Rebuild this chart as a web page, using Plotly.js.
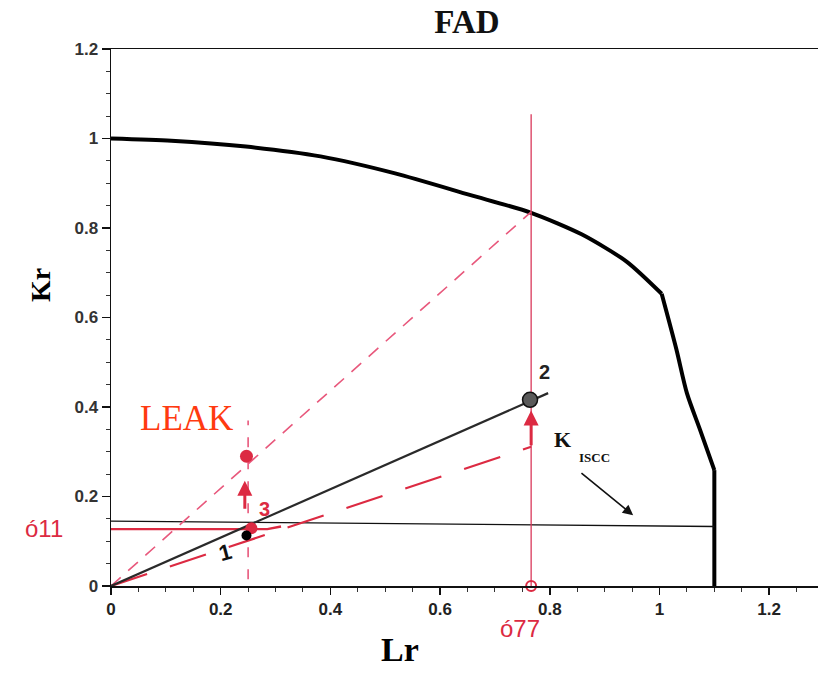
<!DOCTYPE html>
<html>
<head>
<meta charset="utf-8">
<script src="https://cdn.plot.ly/plotly-3.0.1.min.js"></script>
<style>html,body{margin:0;padding:0;background:#fff;}#chart{width:818px;height:673px;}</style>
</head>
<body>
<div id="chart"></div>
<script>
// ---- data ----
const fadLr = [0, 0.11, 0.246, 0.382, 0.518, 0.654, 0.766, 0.858, 0.94, 1.004, 1.031, 1.05, 1.074, 1.1, 1.1];
const fadKr = [1.0, 0.995, 0.982, 0.96, 0.922, 0.874, 0.834, 0.786, 0.725, 0.653, 0.528, 0.431, 0.349, 0.259, 0];
const kisccLr = [0, 1.1];
const kisccKr = [0.145, 0.133];
const loadLr = [0, 0.797];
const loadKr = [0, 0.431];
const leakDashLr = [0, 0.766];
const leakDashKr = [0, 0.836];
const redDashLr = [0, 0.766];
const redDashKr = [0, 0.311];
const vertLineLr = [0.766, 0.766];
const vertLineKr = [0, 1.054];
const vertDashLr = [0.25, 0.25];
const vertDashKr = [0.015, 0.37];
const redHorizLr = [-0.014, 0.2, 0.285, 0.31];
const redHorizKr = [0.127, 0.126, 0.127, 0.133];
const pt1Lr = [0.247], pt1Kr = [0.113];
const pt1RedLr = [0.256], pt1RedKr = [0.129];
const pt2Lr = [0.764], pt2Kr = [0.416];
const leakPtLr = [0.247], leakPtKr = [0.29];
const axisMarkLr = [0.766], axisMarkKr = [0];
const arrowsLr = [[0.244, 0.244], [0.766, 0.766]];
const arrowsKr = [[0.169, 0.235], [0.311, 0.392]];
const kisccArrowLr = [0.855, 0.952];
const kisccArrowKr = [0.255, 0.158];
const tickVals = [0, 0.2, 0.4, 0.6, 0.8, 1.0, 1.2];
const xTickText = ['0', '0.2', '0.4', '0.6', '0.8', '1', '1.2'];
const yTickText = ['0', '0.2', '0.4', '0.6', '0.8', '1', '1.2'];

const RED = '#dc2a42';
const PINK = '#e8587c';
const CORNER = 9, FOOT = 13;

const traces = [
  {x: fadLr.slice(0, CORNER + 1), y: fadKr.slice(0, CORNER + 1), mode: 'lines', line: {color: '#000', width: 4, shape: 'spline', smoothing: 0.7}},
  {x: fadLr.slice(CORNER, FOOT + 1), y: fadKr.slice(CORNER, FOOT + 1), mode: 'lines', line: {color: '#000', width: 4, shape: 'spline', smoothing: 0.8}},
  {x: fadLr.slice(FOOT), y: fadKr.slice(FOOT), mode: 'lines', line: {color: '#000', width: 4}},
  {x: kisccLr, y: kisccKr, mode: 'lines', line: {color: '#111', width: 1.3}},
  {x: leakDashLr, y: leakDashKr, mode: 'lines', line: {color: PINK, width: 1.6, dash: '13px,10px'}},
  {x: redDashLr, y: redDashKr, mode: 'lines', line: {color: RED, width: 2.2, dash: '38px,24px'}},
  {x: vertLineLr, y: vertLineKr, mode: 'lines', line: {color: '#d9385a', width: 1.3}},
  {x: vertDashLr, y: vertDashKr, mode: 'lines', line: {color: PINK, width: 1.6, dash: '10px,12px'}},
  {x: redHorizLr, y: redHorizKr, mode: 'lines', line: {color: RED, width: 2.4}},
  {x: loadLr, y: loadKr, mode: 'lines', line: {color: '#2a2a2a', width: 2.2}},
  {x: leakPtLr, y: leakPtKr, mode: 'markers', marker: {color: RED, size: 13}},
  {x: pt1RedLr, y: pt1RedKr, mode: 'markers', marker: {color: RED, size: 12}},
  {x: pt1Lr, y: pt1Kr, mode: 'markers', marker: {color: '#000', size: 10}},
  {x: pt2Lr, y: pt2Kr, mode: 'markers', marker: {color: '#5a5a5a', size: 15, line: {color: '#111', width: 1.5}}},
  {x: axisMarkLr, y: axisMarkKr, mode: 'markers', cliponaxis: false,
   marker: {color: 'rgba(255,255,255,0)', size: 10, line: {color: RED, width: 2}}}
];

const L = 111, T = 49, PW = 707, PH = 537;
const px = v => (v - L) / PW, py = v => 1 - (v - T) / PH;

const annotations = [
  {text: 'LEAK', x: 0.05, y: 0.375, xref: 'x', yref: 'y', xanchor: 'left', yanchor: 'middle', showarrow: false,
   font: {family: 'Liberation Serif, Times New Roman, serif', size: 35, color: '#ff3a10'}},
  {text: '<b>1</b>', x: 0.208, y: 0.075, xref: 'x', yref: 'y', showarrow: false, textangle: -15,
   font: {family: 'Liberation Sans, Arial, sans-serif', size: 22, color: '#111'}},
  {text: '<b>2</b>', x: 0.791, y: 0.478, xref: 'x', yref: 'y', showarrow: false,
   font: {family: 'Liberation Sans, Arial, sans-serif', size: 20, color: '#222'}},
  {text: '<b>3</b>', x: 0.279, y: 0.172, xref: 'x', yref: 'y', showarrow: false,
   font: {family: 'Liberation Sans, Arial, sans-serif', size: 20, color: RED}},
  {text: '<b>K</b>', x: 0.823, y: 0.327, xref: 'x', yref: 'y', showarrow: false,
   font: {family: 'Liberation Serif, Times New Roman, serif', size: 22, color: '#111'}},
  {text: '<b>ISCC</b>', x: 0.882, y: 0.288, xref: 'x', yref: 'y', showarrow: false,
   font: {family: 'Liberation Serif, Times New Roman, serif', size: 13, color: '#111'}},
  {text: 'ó11', x: px(44), y: py(528), xref: 'paper', yref: 'paper', xanchor: 'center', yanchor: 'middle', showarrow: false,
   font: {family: 'Liberation Sans, Arial, sans-serif', size: 24, color: RED}},
  {text: 'ó77', x: 0.745, y: py(628), xref: 'x', yref: 'paper', xanchor: 'center', yanchor: 'middle', showarrow: false,
   font: {family: 'Liberation Sans, Arial, sans-serif', size: 24, color: RED}},
  {text: '<b>Lr</b>', x: px(400), y: py(649), xref: 'paper', yref: 'paper', xanchor: 'center', yanchor: 'middle', showarrow: false,
   font: {family: 'Liberation Serif, Times New Roman, serif', size: 34, color: '#000'}},
  {text: '<b>Kr</b>', x: px(40), y: py(285), xref: 'paper', yref: 'paper', xanchor: 'center', yanchor: 'middle', showarrow: false, textangle: -90,
   font: {family: 'Liberation Serif, Times New Roman, serif', size: 28, color: '#000'}}
];

arrowsLr.forEach((ax, i) => {
  annotations.push({x: ax[1], y: arrowsKr[i][1], ax: ax[0], ay: arrowsKr[i][0], xref: 'x', yref: 'y', axref: 'x', ayref: 'y',
    showarrow: true, arrowhead: 2, arrowsize: 1, arrowwidth: 3, arrowcolor: RED, text: ''});
});
annotations.push({x: kisccArrowLr[1], y: kisccArrowKr[1], ax: kisccArrowLr[0], ay: kisccArrowKr[0], xref: 'x', yref: 'y',
  axref: 'x', ayref: 'y', showarrow: true, arrowhead: 2, arrowsize: 1.3, arrowwidth: 1.6, arrowcolor: '#111', text: ''});

const layout = {
  width: 818, height: 673,
  margin: {l: 111, r: 0, t: 49, b: 87},
  paper_bgcolor: '#fff', plot_bgcolor: '#fff',
  showlegend: false,
  title: {text: '<b>FAD</b>', x: 467 / 818, xanchor: 'center', xref: 'container', y: 1 - 21 / 673, yanchor: 'middle', yref: 'container',
    font: {family: 'Liberation Serif, Times New Roman, serif', size: 33, color: '#111'}},
  xaxis: {range: [0, 1.289], showline: true, linecolor: '#111', linewidth: 1.5, mirror: true,
    showgrid: false, zeroline: false, tickvals: tickVals, ticktext: xTickText,
    ticks: 'outside', ticklen: 7, tickwidth: 1.5, tickcolor: '#111',
    minor: {dtick: 0.05, ticks: 'outside', ticklen: 4, tickwidth: 1, tickcolor: '#333'},
    tickfont: {family: 'Liberation Sans Narrow, Liberation Sans, Arial, sans-serif', size: 17, color: '#222', weight: 'bold'}},
  yaxis: {range: [0, 1.2], showline: true, linecolor: '#111', linewidth: 1.5, mirror: false,
    showgrid: false, zeroline: false, tickvals: tickVals, ticktext: yTickText,
    ticks: 'outside', ticklen: 8, tickwidth: 1.5, tickcolor: '#111',
    minor: {dtick: 0.05, ticks: 'outside', ticklen: 4, tickwidth: 1, tickcolor: '#333'},
    tickfont: {family: 'Liberation Sans, Arial, sans-serif', size: 17, color: '#333', weight: 'bold'}},
  annotations: annotations
};

Plotly.newPlot('chart', traces, layout, {staticPlot: true, displayModeBar: false});
</script>
</body>
</html>
